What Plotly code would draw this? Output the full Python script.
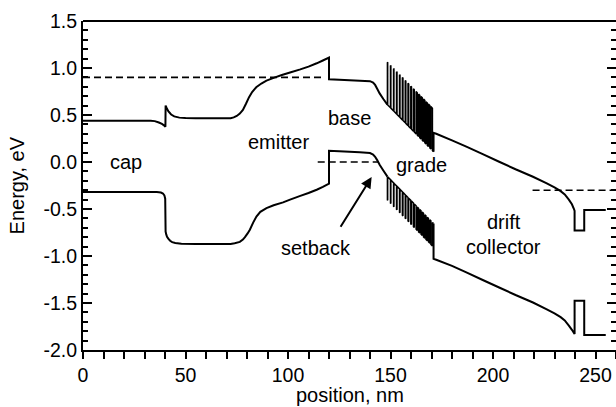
import plotly.graph_objects as go

# ---------------- data ----------------
# Conduction band: cap / emitter / base / setback
cb_x_a = [0, 33, 35, 37, 38.5, 39.5, 40.2, 40.3, 40.8, 41.6, 43, 44.5, 47, 50, 55, 72,
          73.5, 75, 76.5, 78, 79.5, 81, 82.5, 84.5, 87, 89.5, 93, 97, 101, 106, 110,
          114, 117, 120, 120, 125, 130, 135, 140, 141.5, 142.5, 143.5, 144.7, 146.5, 148.5]
cb_y_a = [0.44, 0.44, 0.435, 0.42, 0.405, 0.39, 0.375, 0.60, 0.575, 0.54, 0.505, 0.485,
          0.472, 0.467, 0.465, 0.465, 0.475, 0.49, 0.515, 0.555, 0.62, 0.69, 0.745, 0.795,
          0.835, 0.865, 0.895, 0.925, 0.952, 0.985, 1.015, 1.05, 1.08, 1.11, 0.88, 0.875,
          0.87, 0.865, 0.86, 0.845, 0.82, 0.78, 0.73, 0.67, 0.61]

# Valence band: cap / emitter / base / setback
vb_x_a = [0, 36, 38, 39, 39.7, 40.1, 40.3, 40.6, 41.0, 41.6, 42.5, 43.5, 45, 48, 55, 72,
          74, 76.5, 78, 79, 80.3, 81.4, 83, 84.6, 86.5, 89.5, 93, 97.6, 101, 106, 110,
          114, 117, 120, 120, 125, 130, 135, 140, 141.5, 142.5, 143.5, 144.7, 146.5, 148.5]
vb_y_a = [-0.32, -0.32, -0.325, -0.335, -0.355, -0.39, -0.74, -0.77, -0.795, -0.815,
          -0.838, -0.852, -0.862, -0.87, -0.872, -0.872, -0.865, -0.85, -0.825, -0.80,
          -0.76, -0.72, -0.645, -0.58, -0.53, -0.49, -0.46, -0.43, -0.40, -0.36, -0.33,
          -0.295, -0.265, -0.23, 0.12, 0.115, 0.11, 0.105, 0.095, 0.08, 0.055, 0.02,
          -0.03, -0.09, -0.155]

# Chirped superlattice grade: period start / barrier end positions (nm)
grade_start = [148.5, 150.0, 151.5, 152.95, 154.4, 155.8, 157.2, 158.55, 159.9, 161.2,
               162.5, 163.7, 164.9, 166.1, 167.3, 168.5, 169.7]
grade_bar_end = [148.62, 150.17, 151.67, 153.17, 154.62, 156.07, 157.47, 158.88, 160.23,
                 161.60, 163.05, 164.28, 165.51, 166.74, 167.97, 169.20, 170.45]
grade_end = 171.0
cb_well_s = [0.610, 0.577, 0.543, 0.511, 0.479, 0.448, 0.417, 0.387, 0.357, 0.328,
             0.299, 0.272, 0.246, 0.219, 0.192, 0.166, 0.139]
cb_well_e = [0.607, 0.573, 0.540, 0.506, 0.474, 0.442, 0.411, 0.379, 0.349, 0.319,
             0.287, 0.259, 0.232, 0.205, 0.177, 0.150, 0.122]
cb_bar_s = [1.060, 1.027, 0.993, 0.961, 0.929, 0.898, 0.867, 0.837, 0.807, 0.778,
            0.749, 0.722, 0.696, 0.669, 0.642, 0.616, 0.589]
cb_bar_e = [1.057, 1.023, 0.990, 0.956, 0.924, 0.892, 0.861, 0.829, 0.799, 0.769,
            0.737, 0.709, 0.682, 0.655, 0.627, 0.600, 0.572]
cb_grade_end = 0.110
vb_well_s = [-0.155, -0.188, -0.222, -0.254, -0.286, -0.317, -0.348, -0.378, -0.408,
             -0.437, -0.466, -0.493, -0.519, -0.546, -0.573, -0.599, -0.626]
vb_well_e = [-0.158, -0.192, -0.225, -0.259, -0.291, -0.323, -0.354, -0.386, -0.416,
             -0.446, -0.478, -0.506, -0.533, -0.560, -0.588, -0.615, -0.643]
vb_bar_s = [-0.405, -0.438, -0.472, -0.504, -0.536, -0.567, -0.598, -0.628, -0.658,
            -0.687, -0.716, -0.743, -0.769, -0.796, -0.823, -0.849, -0.876]
vb_bar_e = [-0.408, -0.442, -0.475, -0.509, -0.541, -0.573, -0.604, -0.636, -0.666,
            -0.696, -0.728, -0.756, -0.783, -0.810, -0.838, -0.865, -0.893]
vb_grade_end = -0.655

# Drift collector / sub-collector
cb_x_c = [171.0, 172.3, 180, 187, 195, 203, 211, 219.5, 226, 230, 233, 235, 237, 238.5,
          239.5, 239.8, 239.8, 244.5, 244.5, 255]
cb_y_c = [0.31, 0.30, 0.23, 0.163, 0.083, 0.003, -0.077, -0.157, -0.225, -0.27, -0.31,
          -0.345, -0.40, -0.45, -0.50, -0.52, -0.73, -0.73, -0.51, -0.51]
vb_x_c = [171.0, 172.3, 180, 187, 195, 203, 211, 219.5, 226, 230, 233, 235, 237, 238.5,
          239.8, 239.8, 244.5, 244.5, 255]
vb_y_c = [-1.03, -1.04, -1.105, -1.175, -1.255, -1.335, -1.415, -1.495, -1.565, -1.61,
          -1.65, -1.685, -1.74, -1.785, -1.83, -1.475, -1.475, -1.84, -1.84]

# Fermi levels (dashed)
ef_segments_x = [[0, 118], [114.5, 144], [219.3, 260]]
ef_segments_y = [[0.9, 0.9], [0.0, 0.0], [-0.3, -0.3]]

# Region labels
label_text = ["cap", "emitter", "base", "grade", "setback", "drift", "collector"]
label_x = [20.9, 95.2, 130.1, 164.9, 113.5, 205.2, 205.1]
label_y = [0.0, 0.21, 0.47, -0.03, -0.91, -0.64, -0.90]

# Arrow (tail -> head)
arrow_tail = (125.2, -0.705)
arrow_head = (140.8, -0.16)

x_tick_vals = [0, 50, 100, 150, 200, 250]
x_tick_text = ["0", "50", "100", "150", "200", "250"]
y_tick_vals = [-2.0, -1.5, -1.0, -0.5, 0.0, 0.5, 1.0, 1.5]
y_tick_text = ["-2.0", "-1.5", "-1.0", "-0.5", "0.0", "0.5", "1.0", "1.5"]


# ---------------- build band polylines ----------------
def grade_polyline(well_s, well_e, bar_s, bar_e, end_val, start_pt):
    xs, ys = [start_pt[0]], [start_pt[1]]
    for i in range(len(grade_start)):
        xs += [grade_start[i], grade_start[i], grade_bar_end[i], grade_bar_end[i]]
        ys += [well_s[i], bar_s[i], bar_e[i], well_e[i]]
    xs.append(grade_end)
    ys.append(end_val)
    return xs, ys


cb_gx, cb_gy = grade_polyline(cb_well_s, cb_well_e, cb_bar_s, cb_bar_e, cb_grade_end,
                              (cb_x_a[-1], cb_y_a[-1]))
vb_gx, vb_gy = grade_polyline(vb_well_s, vb_well_e, vb_bar_s, vb_bar_e, vb_grade_end,
                              (vb_x_a[-1], vb_y_a[-1]))
# collector parts start where the grade ends
cb_cx, cb_cy = [grade_end] + cb_x_c, [cb_grade_end] + cb_y_c
vb_cx, vb_cy = [grade_end] + vb_x_c, [vb_grade_end] + vb_y_c

FONT = "Liberation Sans, Arial, sans-serif"

fig = go.Figure()
for bx, by, w in [(cb_x_a, cb_y_a, 2), (cb_gx, cb_gy, 1.5), (cb_cx, cb_cy, 2),
                  (vb_x_a, vb_y_a, 2), (vb_gx, vb_gy, 1.5), (vb_cx, vb_cy, 2)]:
    fig.add_trace(go.Scatter(x=bx, y=by, mode="lines",
                             line=dict(color="black", width=w, simplify=False),
                             showlegend=False, hoverinfo="skip"))
for ex, ey in zip(ef_segments_x, ef_segments_y):
    fig.add_trace(go.Scatter(x=ex, y=ey, mode="lines",
                             line=dict(color="black", width=1.6, dash="7px,4px"),
                             showlegend=False, hoverinfo="skip"))
# invisible trace to host the right-hand tick axis
fig.add_trace(go.Scatter(x=[0], y=[0], yaxis="y2", mode="markers",
                         marker=dict(opacity=0), showlegend=False, hoverinfo="skip"))

annotations = []
for t, lx, ly in zip(label_text, label_x, label_y):
    annotations.append(dict(x=lx, y=ly, xref="x", yref="y", text=t, showarrow=False,
                            xanchor="center", yanchor="middle",
                            font=dict(family=FONT, size=20, color="black")))
annotations.append(dict(x=arrow_head[0], y=arrow_head[1], ax=arrow_tail[0], ay=arrow_tail[1],
                        xref="x", yref="y", axref="x", ayref="y", text="", showarrow=True,
                        arrowhead=2, arrowsize=1.1, arrowwidth=2, arrowcolor="black"))
annotations.append(dict(x=0.5, y=-0.137, xref="paper", yref="paper", text="position, nm",
                        showarrow=False, xanchor="center", yanchor="middle",
                        font=dict(family=FONT, size=20, color="black")))
annotations.append(dict(x=-0.124, y=0.5, xref="paper", yref="paper", text="Energy, eV",
                        textangle=-90, showarrow=False, xanchor="center", yanchor="middle",
                        font=dict(family=FONT, size=20, color="black")))

tickfont = dict(family=FONT, size=19.5, color="black")
fig.update_layout(
    width=616, height=407,
    margin=dict(l=83, r=0, t=21, b=57),
    paper_bgcolor="white", plot_bgcolor="white",
    font=dict(family=FONT, color="black"),
    xaxis=dict(range=[0, 260], showline=True, linecolor="black", linewidth=2,
               ticks="outside", ticklen=7, tickwidth=2, tickcolor="black",
               tickmode="array", tickvals=x_tick_vals, ticktext=x_tick_text,
               tickfont=tickfont, showgrid=False, zeroline=False,
               minor=dict(ticks="outside", ticklen=7, tickwidth=2, tickcolor="black",
                          tickmode="linear", tick0=0, dtick=10, showgrid=False)),
    yaxis=dict(range=[-2.0, 1.5], showline=True, linecolor="black", linewidth=2,
               ticks="inside", ticklen=9, tickwidth=2, tickcolor="black",
               tickmode="array", tickvals=y_tick_vals, ticktext=y_tick_text,
               tickfont=tickfont, showgrid=False, zeroline=False,
               minor=dict(ticks="inside", ticklen=5, tickwidth=2, tickcolor="black",
                          tickmode="linear", tick0=0, dtick=0.1, showgrid=False)),
    yaxis2=dict(range=[-2.0, 1.5], overlaying="y", side="right", anchor="x",
                showline=False, showticklabels=False, showgrid=False, zeroline=False,
                ticks="inside", ticklen=9, tickwidth=2, tickcolor="black",
                tickmode="array", tickvals=y_tick_vals,
                minor=dict(ticks="inside", ticklen=5, tickwidth=2, tickcolor="black",
                           tickmode="linear", tick0=0, dtick=0.1, showgrid=False)),
    shapes=[dict(type="line", xref="paper", yref="paper", x0=0, x1=1, y0=1, y1=1,
                 line=dict(color="black", width=2))],
    annotations=annotations,
)

fig.write_html("out.html")
